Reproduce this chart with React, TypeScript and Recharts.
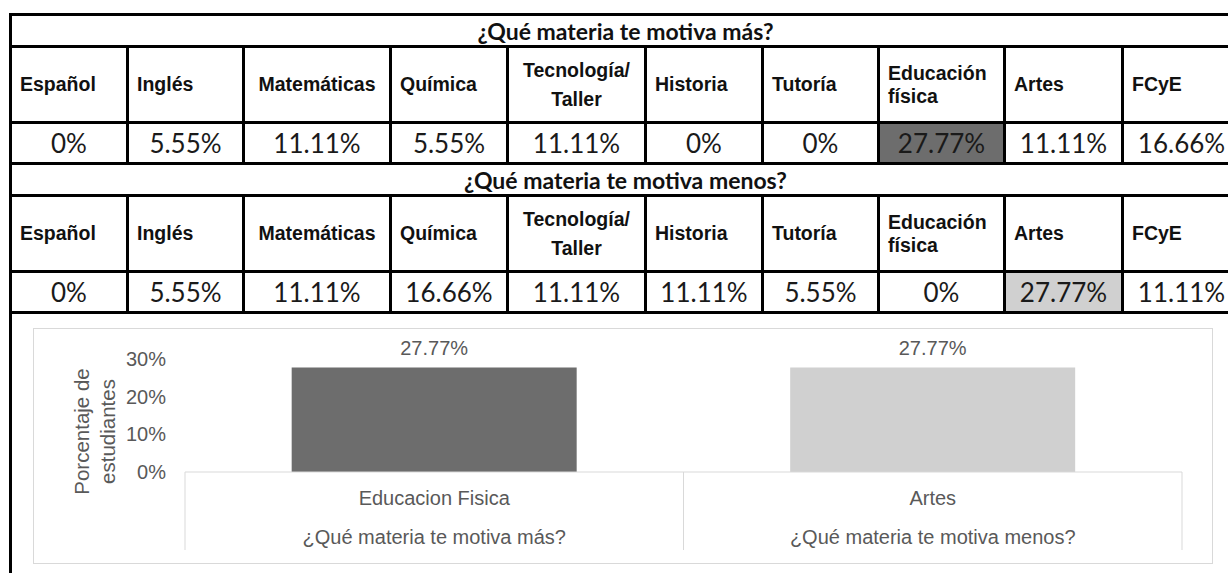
import React from 'react';
import { BarChart, Bar, XAxis, YAxis, Cell, LabelList } from 'recharts';

// ---------- table data ----------
const subjects = ['Español', 'Inglés', 'Matemáticas', 'Química', 'Tecnología/\nTaller', 'Historia', 'Tutoría', 'Educación\nfísica', 'Artes', 'FCyE'];
const titleMas = '¿Qué materia te motiva más?';
const titleMenos = '¿Qué materia te motiva menos?';
const valuesMas = ['0%', '5.55%', '11.11%', '5.55%', '11.11%', '0%', '0%', '27.77%', '11.11%', '16.66%'];
const valuesMenos = ['0%', '5.55%', '11.11%', '16.66%', '11.11%', '11.11%', '5.55%', '0%', '27.77%', '11.11%'];
const highlightMas = 7;
const highlightMenos = 8;

// ---------- chart data ----------
const chartSubjects = ['Educacion Fisica', 'Artes'];
const chartQuestions = ['¿Qué materia te motiva más?', '¿Qué materia te motiva menos?'];
const chartValues = [27.77, 27.77];
const yTicks = [0, 10, 20, 30];
const yAxisTitle = ['Porcentaje de', 'estudiantes'];

const DARK = '#6d6d6d';
const LIGHT = '#d0d0d0';
const barColors = [DARK, LIGHT];

const chartData = chartSubjects.map((s, i) => ({ name: s, question: chartQuestions[i], value: chartValues[i] }));

// ---------- layout ----------
const COLS = [9, 126, 242, 389, 506, 644, 761, 877, 1003, 1121, 1239];
const LW = 3;
const centeredHeaders = new Set([2, 4]);
const ARIAL = "'Liberation Sans', Arial, sans-serif";
const CAL = "Lato, 'Open Sans', sans-serif";
const GRAY = '#595959';

const hLine = (top: number, key: string) => (
  <div key={key} style={{ position: 'absolute', left: COLS[0], top, width: 1240, height: LW, background: '#000' }} />
);

function Block({ top, title, values, hi, fill }: { top: number; title: string; values: string[]; hi: number; fill: string }) {
  const titleTop = top + LW;
  const headTopLine = top + 32;
  const headTop = headTopLine + LW;
  const valTopLine = headTopLine + 76;
  const valTop = valTopLine + LW;
  const valBottomLine = valTopLine + 41;
  const els: React.ReactNode[] = [];
  els.push(
    <div key="t" style={{ position: 'absolute', left: COLS[0] + LW, top: titleTop, width: COLS[10] - COLS[0] - LW, height: headTopLine - titleTop, display: 'flex', alignItems: 'center', justifyContent: 'center', fontFamily: CAL, fontWeight: 700, fontSize: 23, color: '#111' }}>{title}</div>
  );
  subjects.forEach((s, i) => {
    const left = COLS[i] + LW;
    const w = COLS[i + 1] - left;
    els.push(
      <div key={'h' + i} style={{ position: 'absolute', left, top: headTop, width: w, height: valTopLine - headTop, display: 'flex', alignItems: 'center', justifyContent: centeredHeaders.has(i) ? 'center' : 'flex-start', textAlign: centeredHeaders.has(i) ? 'center' : 'left', boxSizing: 'border-box', padding: centeredHeaders.has(i) ? 0 : '0 0 0 8px', fontFamily: ARIAL, fontWeight: 700, fontSize: 19.5, lineHeight: i === 4 ? '29px' : '23px', whiteSpace: 'pre-line', color: '#111' }}>{s}</div>
    );
    els.push(
      <div key={'v' + i} style={{ position: 'absolute', left, top: valTop, width: w, height: valBottomLine - valTop, display: 'flex', alignItems: 'center', justifyContent: 'center', background: i === hi ? fill : 'transparent', fontFamily: CAL, fontSize: 26, color: '#1a1a1a' }}>{values[i]}</div>
    );
  });
  COLS.forEach((x, i) => {
    if (i === 0) return;
    els.push(<div key={'c' + i} style={{ position: 'absolute', left: x, top: headTopLine, width: LW, height: valBottomLine + LW - headTopLine, background: '#000' }} />);
  });
  els.push(hLine(headTopLine, 'l1'));
  els.push(hLine(valTopLine, 'l2'));
  els.push(hLine(valBottomLine, 'l3'));
  return <>{els}</>;
}

const XTick = (props: any) => {
  const { x, y, payload, index, width } = props;
  const n = chartSubjects.length;
  let half = payload && payload.offset > 0 ? payload.offset : 0;
  if (!half && typeof width === 'number' && width > 0) half = width / n / 2;
  const q = chartData[index] ? chartData[index].question : '';
  return (
    <g>
      <line x1={x - half} y1={y} x2={x - half} y2={y + 78} stroke="#d9d9d9" strokeWidth={1} />
      {index === n - 1 && <line x1={x + half} y1={y} x2={x + half} y2={y + 78} stroke="#d9d9d9" strokeWidth={1} />}
      <text x={x} y={y + 26} textAnchor="middle" dominantBaseline="central" fill={GRAY} fontSize={20} fontFamily={ARIAL}>{payload.value}</text>
      <text x={x} y={y + 65} textAnchor="middle" dominantBaseline="central" fill={GRAY} fontSize={20} fontFamily={ARIAL}>{q}</text>
    </g>
  );
};

const YTitle = (props: any) => {
  const vb = props.viewBox || { x: 0, y: 31, width: 152, height: 113 };
  const cx = vb.x + 61;
  const cy = vb.y + vb.height / 2 + 16;
  return (
    <text transform={`rotate(-90, ${cx}, ${cy})`} x={cx} y={cy} textAnchor="middle" fill={GRAY} fontSize={20.5} fontFamily={ARIAL}>
      <tspan x={cx} y={cy - 13} dominantBaseline="central">{yAxisTitle[0]}</tspan>
      <tspan x={cx} y={cy + 13} dominantBaseline="central">{yAxisTitle[1]}</tspan>
    </text>
  );
};

export default function App() {
  return (
    <div style={{ position: 'absolute', left: 0, top: 0, width: 1228, height: 573, overflow: 'hidden', background: '#fff' }}>
      {hLine(13, 'top')}
      <div style={{ position: 'absolute', left: COLS[0], top: 13, width: LW, height: 600, background: '#000' }} />
      <Block top={13} title={titleMas} values={valuesMas} hi={highlightMas} fill={DARK} />
      <Block top={162} title={titleMenos} values={valuesMenos} hi={highlightMenos} fill={LIGHT} />

      <div style={{ position: 'absolute', left: 33, top: 328, width: 1180, height: 236, border: '1px solid #d9d9d9', boxSizing: 'border-box' }} />
      <div style={{ position: 'absolute', left: 33, top: 328 }}>
        <BarChart width={1180} height={236} data={chartData} margin={{ top: 31, right: 31, left: 0, bottom: 0 }} barCategoryGap="21.4%">
          <XAxis dataKey="name" height={92} axisLine={{ stroke: '#d9d9d9' }} tickLine={false} tickSize={0} tickMargin={0} tick={<XTick />} interval={0} />
          <YAxis width={152} domain={[0, 30]} ticks={yTicks} axisLine={false} tickLine={false} tickSize={0} tickMargin={19} tickFormatter={(v: number) => `${v}%`} tick={{ fill: GRAY, fontSize: 20, fontFamily: ARIAL }} label={{ content: <YTitle /> }} />
          <Bar dataKey="value" isAnimationActive={false}>
            {chartData.map((d, i) => (
              <Cell key={d.name} fill={barColors[i]} />
            ))}
            <LabelList dataKey="value" position="top" offset={12} formatter={(v: any) => `${v}%`} fill={GRAY} fontSize={20} fontFamily={ARIAL} />
          </Bar>
        </BarChart>
      </div>
    </div>
  );
}
